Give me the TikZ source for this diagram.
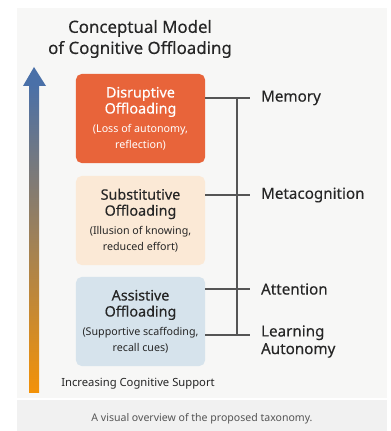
\documentclass[tikz,border=0pt]{standalone}
\usepackage{fontspec}
\setmainfont{Noto Sans}
\newfontfamily\medfont[FakeBold=0.25]{Noto Sans}
\usepackage{xcolor}
\usetikzlibrary{arrows}

\definecolor{panelbg}{HTML}{F7F7F6}
\definecolor{capbg}{HTML}{F1F1F1}
\definecolor{disrfill}{HTML}{E8643A}
\definecolor{substfill}{HTML}{FBE9D6}
\definecolor{assistfill}{HTML}{D6E3EC}
\definecolor{inktext}{HTML}{262626}
\definecolor{linkgray}{HTML}{555555}
\definecolor{arrtop}{HTML}{4A70A8}
\definecolor{arrmid}{HTML}{B8705E}
\definecolor{arrbot}{HTML}{F39208}

\newcommand{\st}{\rmfamily\fontsize{7.6}{10.6}\selectfont}

\begin{document}
\begin{tikzpicture}[x=0.025cm,y=-0.025cm,
  box/.style={rounded corners=4pt, minimum width=3.225cm, minimum height=2.225cm,
              inner sep=0pt, align=center, text=inktext, font=\medfont\fontsize{10.2}{11.4}\selectfont},
  lbl/.style={anchor=west, inner xsep=0.27cm, inner ysep=0pt, text=inktext,
              font=\medfont\fontsize{10.8}{12.5}\selectfont, align=left},
  link/.style={draw=linkgray, line width=0.9pt}]
\useasboundingbox (0,0) rectangle (390,431);
\fill[panelbg] (17,8) rectangle (387,398);
\fill[capbg] (17,400) rectangle (387,431);

% title
\node[align=center, text=inktext, font=\medfont\fontsize{12}{15}\selectfont] (Title) at (140,39)
  {Conceptual Model\\of Cognitive Offloading};

% support arrow
\shade[top color=arrtop, middle color=arrmid, bottom color=arrbot] (29,84) rectangle (39,392);
\fill[arrtop] (23,86) -- (34,67) -- (46,86) -- cycle;

% offloading boxes
\node[box, fill=disrfill, text=white]   (Disr)   at (140.5,118.5)
  {Disruptive\\Offloading\\[2pt]\st (Loss of autonomy,\\\st reflection)};
\node[box, fill=substfill]  (Subst)  at (140.5,220.5)
  {Substitutive\\Offloading\\[2pt]\st (Illusion of knowing,\\\st reduced effort)};
\node[box, fill=assistfill] (Assist) at (140.5,321.5)
  {Assistive\\Offloading\\[2pt]\st (Supportive scaffoding,\\\st recall cues)};

% dimensions
\node[lbl] (Mem)  at (250,98)  {Memory};
\node[lbl] (Meta) at (250,195) {Metacognition};
\node[lbl] (Att)  at (250,289) {Attention};
\node[lbl, anchor=north west] (LA) at (250,325) {Learning\\Autonomy};
\coordinate (LAin) at (250,335);
\coordinate (spT) at (237,98);
\coordinate (spB) at (237,335);

\path[link]
  (Disr.east |- Mem.west)   edge (Mem.west)
  (Subst.east |- Meta.west) edge (Meta.west)
  (Assist.east |- Att.west) edge (Att.west)
  (Assist.east |- LAin)     edge (LAin)
  (spT) edge (spB);

\node[anchor=west, inner sep=0pt, text=inktext, font=\fontsize{8}{9}\selectfont] (Supp) at (61,384)
  {Increasing Cognitive Support};
\node[text=linkgray, font=\fontsize{7.5}{9}\selectfont] (Cap) at (202,419)
  {A visual overview of the proposed taxonomy.};
\end{tikzpicture}
\end{document}
